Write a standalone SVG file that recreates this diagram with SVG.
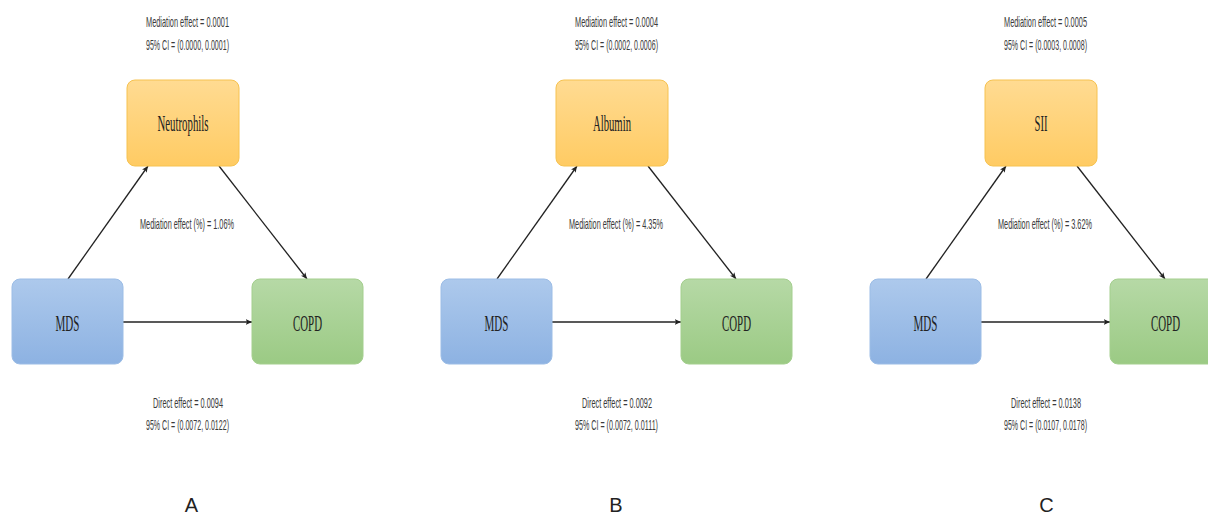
<svg xmlns="http://www.w3.org/2000/svg" width="1208" height="515" viewBox="0 0 1208 515">
<style>
.small{font-family:"Liberation Sans",Arial,sans-serif;font-size:14.5px;fill:#3a3a3a;text-anchor:middle}
.node{font-family:"Liberation Serif","Times New Roman",serif;font-size:24px;fill:#222;text-anchor:middle}
.lbl{font-family:"Liberation Sans",Arial,sans-serif;font-size:20px;fill:#222;text-anchor:middle}
.med rect{fill:url(#gy);stroke:#f6c250;stroke-width:1}
.exp rect{fill:url(#gb);stroke:#9cbde6;stroke-width:1}
.out rect{fill:url(#gg);stroke:#a4cf8e;stroke-width:1}
.conn line{stroke:#222;stroke-width:1.3;fill:none;marker-end:url(#ah)}
</style>
<defs>
<linearGradient id="gy" x1="0" y1="0" x2="0" y2="1"><stop offset="0" stop-color="#ffdb92"/><stop offset="1" stop-color="#ffcb63"/></linearGradient>
<linearGradient id="gb" x1="0" y1="0" x2="0" y2="1"><stop offset="0" stop-color="#adc9ec"/><stop offset="1" stop-color="#8db2e2"/></linearGradient>
<linearGradient id="gg" x1="0" y1="0" x2="0" y2="1"><stop offset="0" stop-color="#b6d9a6"/><stop offset="1" stop-color="#9bca84"/></linearGradient>
<marker id="ah" viewBox="0 0 10 10" refX="9" refY="5" markerWidth="7" markerHeight="7" orient="auto" markerUnits="userSpaceOnUse">
<path d="M0,1 L9,5 L0,9 L2,5 Z" fill="#222"/>
</marker>
</defs>
<rect width="1208" height="515" fill="#fff"/>

<g id="connectors" class="conn">
<line x1="68" y1="279" x2="148" y2="166"/>
<line x1="219" y1="166" x2="307" y2="279"/>
<line x1="123" y1="322" x2="252" y2="322"/>
<line x1="497" y1="279" x2="577" y2="166"/>
<line x1="648" y1="166" x2="736" y2="279"/>
<line x1="552" y1="322" x2="681" y2="322"/>
<line x1="926" y1="279" x2="1006" y2="166"/>
<line x1="1077" y1="166" x2="1165" y2="279"/>
<line x1="981" y1="322" x2="1110" y2="322"/>
</g>

<g id="A-neutrophils" class="med"><rect x="127" y="80" width="112" height="86" rx="8"/><text class="node" x="183" y="131" textLength="51" lengthAdjust="spacingAndGlyphs">Neutrophils</text></g>
<g id="A-mds" class="exp"><rect x="12" y="279" width="111" height="85" rx="8"/><text class="node" x="67.5" y="331" textLength="24" lengthAdjust="spacingAndGlyphs">MDS</text></g>
<g id="A-copd" class="out"><rect x="252" y="279" width="111" height="85" rx="8"/><text class="node" x="307.5" y="331" textLength="29" lengthAdjust="spacingAndGlyphs">COPD</text></g>

<g id="B-albumin" class="med"><rect x="556" y="80" width="112" height="86" rx="8"/><text class="node" x="612" y="131" textLength="38" lengthAdjust="spacingAndGlyphs">Albumin</text></g>
<g id="B-mds" class="exp"><rect x="441" y="279" width="111" height="85" rx="8"/><text class="node" x="496.5" y="331" textLength="24" lengthAdjust="spacingAndGlyphs">MDS</text></g>
<g id="B-copd" class="out"><rect x="681" y="279" width="111" height="85" rx="8"/><text class="node" x="736.5" y="331" textLength="29" lengthAdjust="spacingAndGlyphs">COPD</text></g>

<g id="C-sii" class="med"><rect x="985" y="80" width="112" height="86" rx="8"/><text class="node" x="1041" y="131" textLength="13" lengthAdjust="spacingAndGlyphs">SII</text></g>
<g id="C-mds" class="exp"><rect x="870" y="279" width="111" height="85" rx="8"/><text class="node" x="925.5" y="331" textLength="24" lengthAdjust="spacingAndGlyphs">MDS</text></g>
<g id="C-copd" class="out"><rect x="1110" y="279" width="111" height="85" rx="8"/><text class="node" x="1165.5" y="331" textLength="29" lengthAdjust="spacingAndGlyphs">COPD</text></g>

<g id="labels-A">
<text class="small" x="187.5" y="27" textLength="83" lengthAdjust="spacingAndGlyphs">Mediation effect = 0.0001</text>
<text class="small" x="187.5" y="50" textLength="83" lengthAdjust="spacingAndGlyphs">95% CI = (0.0000, 0.0001)</text>
<text class="small" x="187" y="229" textLength="94" lengthAdjust="spacingAndGlyphs">Mediation effect (%) = 1.06%</text>
<text class="small" x="188" y="408" textLength="70" lengthAdjust="spacingAndGlyphs">Direct effect = 0.0094</text>
<text class="small" x="187.5" y="430" textLength="83" lengthAdjust="spacingAndGlyphs">95% CI = (0.0072, 0.0122)</text>
<text class="lbl" x="191.5" y="512">A</text>
</g>
<g id="labels-B">
<text class="small" x="616.5" y="27" textLength="83" lengthAdjust="spacingAndGlyphs">Mediation effect = 0.0004</text>
<text class="small" x="616.5" y="50" textLength="83" lengthAdjust="spacingAndGlyphs">95% CI = (0.0002, 0.0006)</text>
<text class="small" x="616" y="229" textLength="94" lengthAdjust="spacingAndGlyphs">Mediation effect (%) = 4.35%</text>
<text class="small" x="617" y="408" textLength="70" lengthAdjust="spacingAndGlyphs">Direct effect = 0.0092</text>
<text class="small" x="616.5" y="430" textLength="83" lengthAdjust="spacingAndGlyphs">95% CI = (0.0072, 0.0111)</text>
<text class="lbl" x="616" y="512">B</text>
</g>
<g id="labels-C">
<text class="small" x="1045.5" y="27" textLength="83" lengthAdjust="spacingAndGlyphs">Mediation effect = 0.0005</text>
<text class="small" x="1045.5" y="50" textLength="83" lengthAdjust="spacingAndGlyphs">95% CI = (0.0003, 0.0008)</text>
<text class="small" x="1045" y="229" textLength="94" lengthAdjust="spacingAndGlyphs">Mediation effect (%) = 3.62%</text>
<text class="small" x="1046" y="408" textLength="70" lengthAdjust="spacingAndGlyphs">Direct effect = 0.0138</text>
<text class="small" x="1045.5" y="430" textLength="83" lengthAdjust="spacingAndGlyphs">95% CI = (0.0107, 0.0178)</text>
<text class="lbl" x="1046.5" y="512">C</text>
</g>
</svg>
